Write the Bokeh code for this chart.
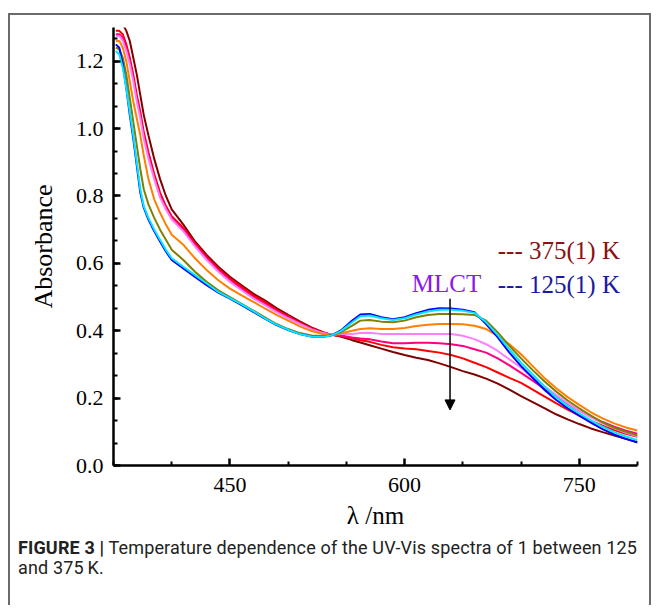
from bokeh.plotting import figure
from bokeh.models import Label, Arrow, NormalHead, FixedTicker, Range1d, Div, Spacer, CustomJSTickFormatter
from bokeh.layouts import column, row
from bokeh.embed import file_html
from bokeh.resources import INLINE

wavelength = [352, 355, 358, 361, 364, 367, 370, 373, 376, 380, 385, 390, 395, 400,
              410, 420, 430, 440, 450, 460, 470, 480, 490, 500, 510, 520, 530, 537,
              545, 555, 562, 570, 580, 590, 600, 610, 620, 630, 640, 650, 660, 670,
              680, 690, 700, 710, 720, 730, 740, 750, 760, 770, 780, 790, 800]

abs_maroon = [1.32, 1.32, 1.31, 1.29, 1.26, 1.21, 1.16, 1.10, 1.04, 0.98, 0.91, 0.85, 0.80, 0.76,
              0.715, 0.665, 0.625, 0.59, 0.56, 0.535, 0.51, 0.49, 0.467, 0.447, 0.428, 0.41, 0.396, 0.388,
              0.383, 0.372, 0.365, 0.357, 0.347, 0.337, 0.328, 0.32, 0.313, 0.303, 0.292, 0.28, 0.27, 0.258,
              0.243, 0.225, 0.206, 0.188, 0.17, 0.152, 0.137, 0.123, 0.11, 0.099, 0.089, 0.079, 0.07]
abs_red = [1.29, 1.29, 1.28, 1.25, 1.21, 1.16, 1.10, 1.05, 0.99, 0.93, 0.865, 0.81, 0.77, 0.74,
           0.705, 0.66, 0.62, 0.585, 0.555, 0.53, 0.505, 0.485, 0.462, 0.443, 0.425, 0.408, 0.395, 0.388,
           0.385, 0.377, 0.372, 0.367, 0.358, 0.351, 0.347, 0.345, 0.34, 0.335, 0.328, 0.318, 0.305, 0.292,
           0.276, 0.26, 0.245, 0.225, 0.205, 0.185, 0.166, 0.148, 0.132, 0.118, 0.105, 0.094, 0.085]
abs_deeppink = [1.28, 1.28, 1.27, 1.24, 1.20, 1.15, 1.09, 1.04, 0.98, 0.92, 0.855, 0.80, 0.765, 0.735,
                0.70, 0.655, 0.615, 0.58, 0.55, 0.525, 0.50, 0.48, 0.458, 0.44, 0.422, 0.406, 0.394, 0.388,
                0.386, 0.38, 0.377, 0.375, 0.368, 0.363, 0.363, 0.364, 0.364, 0.363, 0.36, 0.355, 0.345, 0.335,
                0.318, 0.297, 0.275, 0.252, 0.228, 0.205, 0.183, 0.163, 0.145, 0.129, 0.115, 0.103, 0.094]
abs_pink = [1.275, 1.275, 1.26, 1.23, 1.19, 1.14, 1.08, 1.03, 0.97, 0.91, 0.85, 0.795, 0.76, 0.73,
            0.695, 0.65, 0.61, 0.575, 0.545, 0.52, 0.496, 0.476, 0.455, 0.437, 0.42, 0.404, 0.393, 0.388,
            0.39, 0.39, 0.393, 0.394, 0.39, 0.39, 0.39, 0.39, 0.39, 0.39, 0.39, 0.385, 0.375, 0.36,
            0.34, 0.315, 0.29, 0.26, 0.235, 0.21, 0.185, 0.163, 0.143, 0.125, 0.11, 0.097, 0.087]
abs_orange = [1.26, 1.26, 1.24, 1.20, 1.14, 1.08, 1.03, 0.98, 0.92, 0.85, 0.79, 0.75, 0.715, 0.685,
              0.655, 0.615, 0.58, 0.55, 0.525, 0.505, 0.486, 0.466, 0.447, 0.43, 0.413, 0.399, 0.39, 0.388,
              0.392, 0.40, 0.405, 0.407, 0.405, 0.405, 0.408, 0.414, 0.418, 0.42, 0.42, 0.419, 0.415, 0.405,
              0.385, 0.36, 0.33, 0.295, 0.26, 0.23, 0.203, 0.18, 0.158, 0.14, 0.125, 0.113, 0.104]
abs_olive = [1.24, 1.235, 1.21, 1.16, 1.09, 1.02, 0.95, 0.88, 0.82, 0.775, 0.735, 0.70, 0.67, 0.64,
             0.61, 0.575, 0.545, 0.52, 0.50, 0.48, 0.46, 0.44, 0.42, 0.405, 0.393, 0.386, 0.384, 0.387,
             0.395, 0.415, 0.43, 0.432, 0.427, 0.425, 0.43, 0.44, 0.447, 0.45, 0.45, 0.449, 0.447, 0.43,
             0.395, 0.355, 0.318, 0.283, 0.25, 0.22, 0.193, 0.17, 0.148, 0.128, 0.112, 0.10, 0.09]
abs_cyan = [1.23, 1.22, 1.18, 1.12, 1.05, 0.98, 0.90, 0.82, 0.77, 0.735, 0.70, 0.67, 0.64, 0.615,
            0.59, 0.565, 0.54, 0.515, 0.497, 0.478, 0.458, 0.437, 0.418, 0.403, 0.39, 0.383, 0.382, 0.386,
            0.398, 0.425, 0.443, 0.445, 0.437, 0.432, 0.437, 0.448, 0.457, 0.462, 0.462, 0.459, 0.453, 0.425,
            0.387, 0.345, 0.305, 0.27, 0.235, 0.203, 0.177, 0.155, 0.134, 0.115, 0.099, 0.086, 0.075]
abs_blue = [1.25, 1.24, 1.19, 1.12, 1.04, 0.97, 0.89, 0.81, 0.765, 0.73, 0.695, 0.665, 0.635, 0.61,
            0.585, 0.56, 0.535, 0.513, 0.495, 0.476, 0.456, 0.436, 0.417, 0.402, 0.39, 0.383, 0.382, 0.386,
            0.40, 0.43, 0.448, 0.45, 0.44, 0.434, 0.44, 0.452, 0.462, 0.467, 0.466, 0.462, 0.455, 0.42,
            0.38, 0.335, 0.295, 0.26, 0.225, 0.195, 0.17, 0.148, 0.127, 0.108, 0.092, 0.079, 0.068]

series = [
    (abs_maroon, "#800000"),
    (abs_red, "#ff0000"),
    (abs_deeppink, "#ff0080"),
    (abs_pink, "#ff80ff"),
    (abs_orange, "#ff8000"),
    (abs_olive, "#808000"),
    (abs_blue, "#0000ff"),
    (abs_cyan, "#00e8ff"),
]

x_major = [450, 600, 750]
x_minor = [350, 400, 500, 550, 650, 700, 800]
y_major = [0.0, 0.2, 0.4, 0.6, 0.8, 1.0, 1.2]
y_minor = [round(i * 0.2 / 3, 4) for i in range(0, 20)]

SERIF = "Liberation Serif"
X0, X1, Y0, Y1 = 350, 800, 0.0, 1.3
BORDER = "#6b6b6b"
PW, PH, TOTAL_H = 639, 521, 590

p = figure(width=PW, height=PH, x_range=Range1d(X0, X1), y_range=Range1d(Y0, Y1),
           output_backend="svg", toolbar_location=None,
           min_border_left=103, min_border_right=12, min_border_top=12, min_border_bottom=PH - 450)
p.outline_line_color = None
p.xgrid.visible = False
p.ygrid.visible = False

for ys, col in series:
    p.line(wavelength, ys, line_color=col, line_width=2)

for ax in (p.xaxis[0], p.yaxis[0]):
    ax.axis_line_width = 2.5
    ax.axis_line_color = "black"
    ax.major_tick_line_width = 2.5
    ax.minor_tick_line_width = 2
    ax.major_tick_in = 7
    ax.major_tick_out = 0
    ax.minor_tick_in = 4
    ax.minor_tick_out = 0
    ax.major_label_text_font = SERIF
    ax.major_label_text_font_size = "22px"
    ax.major_label_text_color = "black"
    ax.axis_label_text_font = SERIF
    ax.axis_label_text_font_size = "25px"
    ax.axis_label_text_font_style = "normal"
    ax.axis_label_text_color = "black"

p.xaxis.major_label_standoff = 12
p.yaxis.major_label_standoff = 10
p.xaxis.ticker = FixedTicker(ticks=x_major, minor_ticks=x_minor)
p.yaxis.ticker = FixedTicker(ticks=y_major, minor_ticks=y_minor)
p.yaxis.formatter = CustomJSTickFormatter(code="return tick.toFixed(1);")
p.yaxis.axis_label = "Absorbance"
p.yaxis.axis_label_standoff = 15
p.yaxis.axis_label_text_font_size = "26px"
p.xaxis.axis_label = "λ /nm"
p.xaxis.axis_label_standoff = 7

# annotations inside the frame
p.add_layout(Label(x=636, y=0.54, text="MLCT", text_font=SERIF, text_color="#8a18f5",
                   text_font_size="25px", text_align="center", text_baseline="middle"))
p.add_layout(Label(x=680, y=0.638, text="--- 375(1) K", text_font=SERIF, text_color="#8b1010",
                   text_font_size="25px", text_align="left", text_baseline="middle"))
p.add_layout(Label(x=680, y=0.538, text="--- 125(1) K", text_font=SERIF, text_color="#1a1aa0",
                   text_font_size="25px", text_align="left", text_baseline="middle"))
p.add_layout(Arrow(end=NormalHead(size=10, fill_color="black", line_color="black"),
                   x_start=639, y_start=0.495, x_end=639, y_end=0.165,
                   line_color="black", line_width=1.5))

caption = Div(
    text='<span style="font-weight:bold">FIGURE 3 |</span> Temperature dependence of the '
         'UV-Vis spectra of 1 between 125<br>and 375&#8201;K.',
    width=PW, height=TOTAL_H - PH, margin=0,
    styles={"font-family": "Roboto", "font-size": "18px", "line-height": "20px",
            "letter-spacing": "0.15px", "white-space": "nowrap",
            "color": "#222222", "padding-left": "8px", "padding-top": "2px"})

edge_style = {"background-color": BORDER}
top_edge = Div(text="", width=PW + 4, height=2, margin=0, styles=edge_style)
left_edge = Div(text="", width=2, height=TOTAL_H, margin=0, styles=edge_style)
right_edge = Div(text="", width=2, height=TOTAL_H, margin=0, styles=edge_style)

inner = column(p, caption, spacing=0)
boxed = column(Spacer(width=PW + 4, height=13, margin=0), top_edge,
               row(left_edge, inner, right_edge, spacing=0), spacing=0)
layout = row(Spacer(width=8, height=10, margin=0), boxed, spacing=0)

open("out.html", "w").write(file_html(layout, INLINE))
